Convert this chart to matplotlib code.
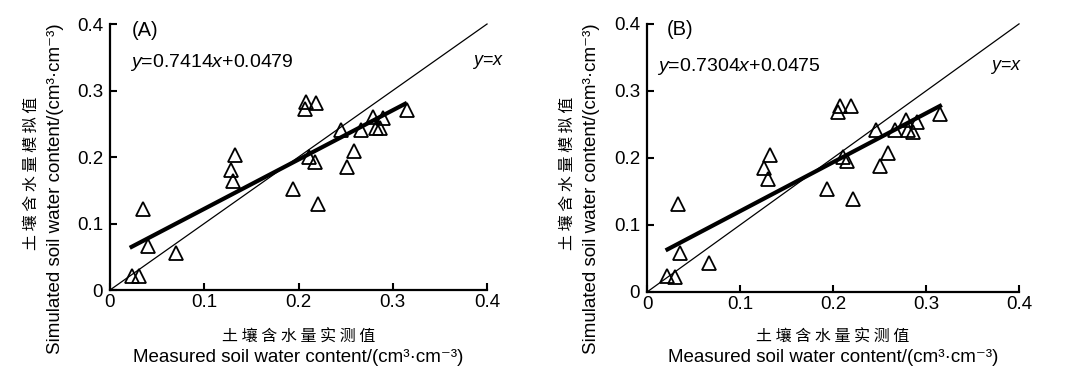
import matplotlib
matplotlib.use("Agg")
import matplotlib.pyplot as plt
import numpy as np

plt.rcParams['font.family'] = ['Liberation Sans', 'DejaVu Sans', 'Noto Sans CJK SC']
plt.rcParams['mathtext.fontset'] = 'custom'
plt.rcParams['mathtext.rm'] = 'Liberation Sans'
plt.rcParams['mathtext.it'] = 'Liberation Sans:italic'

# Panel A data (measured, simulated)
meas_a = [0.023, 0.031, 0.035, 0.040, 0.070, 0.128, 0.130, 0.133, 0.194, 0.208,
          0.207, 0.219, 0.211, 0.218, 0.221, 0.245, 0.251, 0.259, 0.266, 0.279,
          0.282, 0.286, 0.290, 0.315]
sim_a = [0.021, 0.021, 0.122, 0.066, 0.055, 0.181, 0.164, 0.203, 0.152, 0.282,
         0.272, 0.281, 0.200, 0.193, 0.130, 0.241, 0.185, 0.209, 0.241, 0.260,
         0.244, 0.243, 0.258, 0.271]
slope_a, icpt_a = 0.7414, 0.0479
fit_range_a = [0.021, 0.315]

# Panel B data
meas_b = [0.021, 0.030, 0.033, 0.036, 0.067, 0.126, 0.130, 0.132, 0.193, 0.207,
          0.205, 0.219, 0.211, 0.215, 0.221, 0.246, 0.251, 0.259, 0.267, 0.279,
          0.281, 0.286, 0.290, 0.315]
sim_b = [0.024, 0.023, 0.131, 0.058, 0.043, 0.185, 0.169, 0.205, 0.154, 0.277,
         0.268, 0.278, 0.202, 0.195, 0.139, 0.241, 0.188, 0.208, 0.241, 0.257,
         0.241, 0.238, 0.253, 0.265]
slope_b, icpt_b = 0.7304, 0.0475
fit_range_b = [0.020, 0.317]

ticks = [0, 0.1, 0.2, 0.3, 0.4]
tick_labels = ['0', '0.1', '0.2', '0.3', '0.4']

xlabel_cn = '土 壤 含 水 量 实 测 值'
ylabel_cn = '土 壤 含 水 量 模 拟 值'
xlabel_en = 'Measured soil water content/(cm³·cm⁻³)'
ylabel_en = 'Simulated soil water content/(cm³·cm⁻³)'

fig = plt.figure(figsize=(10.73, 3.83), dpi=100)
axA = fig.add_axes([0.1025, 0.2428, 0.3514, 0.6945])
axB = fig.add_axes([0.603, 0.2376, 0.3467, 0.700])

panels = [
    (axA, meas_a, sim_a, slope_a, icpt_a, fit_range_a, '(A)', '0.7414', '0.0479',
     (0.058, 0.975), (0.053, 0.857), (0.96, 0.857)),
    (axB, meas_b, sim_b, slope_b, icpt_b, fit_range_b, '(B)', '0.7304', '0.0475',
     (0.054, 0.978), (0.027, 0.84), (0.922, 0.84)),
]

for ax, mx, sy, k, b, fr, tag, ks, bs, tagpos, eqpos, yxpos in panels:
    ax.plot([0, 0.4], [0, 0.4], color='black', lw=0.9, clip_on=False, zorder=2)
    xf = np.array(fr)
    ax.plot(xf, k * xf + b, color='black', lw=3.0, solid_capstyle='butt', zorder=3)
    ax.plot(mx, sy, linestyle='none', marker='^', markersize=9.5,
            markerfacecolor='none', markeredgecolor='black', markeredgewidth=1.3,
            zorder=4)
    ax.set_xlim(0, 0.4)
    ax.set_ylim(0, 0.4)
    ax.set_xticks(ticks)
    ax.set_xticklabels(tick_labels)
    ax.set_yticks(ticks)
    ax.set_yticklabels(tick_labels)
    ax.tick_params(direction='in', length=5, width=1.5, labelsize=13.5)
    ax.tick_params(axis='x', pad=3)
    ax.tick_params(axis='y', pad=5)
    for s in ['top', 'right']:
        ax.spines[s].set_visible(False)
    for s in ['left', 'bottom']:
        ax.spines[s].set_linewidth(1.6)
    ax.text(tagpos[0], tagpos[1], tag, transform=ax.transAxes, fontsize=14.5,
            ha='left', va='center')
    ax.text(eqpos[0], eqpos[1], r'$\it{y}$=' + ks + r'$\it{x}$+' + bs,
            transform=ax.transAxes, fontsize=14, ha='left', va='center')
    ax.text(yxpos[0], yxpos[1], r'$\it{y}$=$\it{x}$', transform=ax.transAxes,
            fontsize=13, ha='left', va='center', clip_on=False)

# axis labels (figure coordinates)
def add_labels(ax_left_px, ax_right_px, ycn_x, yen_x):
    cx = (ax_left_px + ax_right_px) / 2 / 1073
    fig.text(cx, 1 - 337 / 383, xlabel_cn, ha='center', va='center', fontsize=11.5,
             family=['Noto Sans CJK SC'])
    fig.text(cx, 1 - 358 / 383, xlabel_en, ha='center', va='center', fontsize=13.5)
    fig.text(ycn_x / 1073, 1 - 173 / 383, ylabel_cn, ha='center', va='center',
             rotation=90, fontsize=11.5, family=['Noto Sans CJK SC'])
    fig.text(yen_x / 1073, 1 - 189 / 383, ylabel_en, ha='center', va='center',
             rotation=90, fontsize=13.5)

add_labels(110, 487, 31, 56)
add_labels(647, 1019, 567, 591)

fig.savefig('out.png', dpi=100)
